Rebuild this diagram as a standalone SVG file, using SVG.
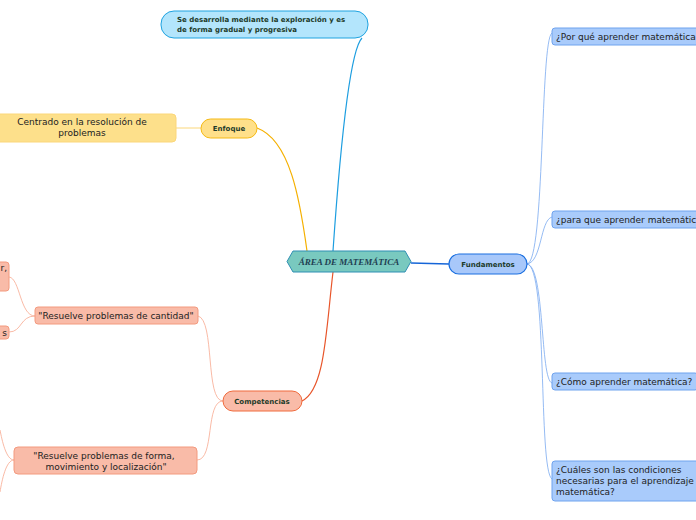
<svg xmlns="http://www.w3.org/2000/svg" width="696" height="520" viewBox="0 0 696 520">
<style>
.t{font-family:"DejaVu Sans",Verdana,sans-serif;font-size:9px;fill:#222222}
.b{font-family:"DejaVu Sans",Verdana,sans-serif;font-size:7px;font-weight:bold;fill:#1d3b2a}
.c{fill:none}
.fq{fill:#a9cbfb;stroke:#6fa3ee;stroke-width:1}
.co{fill:#f9bba8;stroke:#f39a7f;stroke-width:1}
</style>
<rect width="696" height="520" fill="#ffffff"/>
<g id="connectors" class="c">
<path d="M333,251 C340,150 350,50 362,38" stroke="#1d9ee0" stroke-width="1.2"/>
<path d="M307,251 C300,200 290,140 257,128" stroke="#f5b000" stroke-width="1.2"/>
<path d="M201,128 L176,128" stroke="#fbd77a" stroke-width="1"/>
<path d="M411,263 L449,264" stroke="#1565d8" stroke-width="1.6"/>
<path d="M333,272 C326,330 325,390 302,401" stroke="#e8552a" stroke-width="1.2"/>
<g stroke="#7aaaf0" stroke-width="0.8">
<path d="M527,264 C545,262 540,40 552,33"/>
<path d="M527,264 C542,262 540,220 552,217"/>
<path d="M527,264 C545,266 540,380 552,383"/>
<path d="M527,264 C548,266 538,470 552,479"/>
</g>
<g stroke="#f7a88f" stroke-width="0.8">
<path d="M223,401 C205,401 215,320 198,316"/>
<path d="M223,401 C205,401 215,460 197,460"/>
<path d="M35,316 C20,316 20,278 9,277"/>
<path d="M35,316 C20,316 22,332 9,332"/>
<path d="M14,460 C6,460 2,440 0,430"/>
<path d="M14,460 C6,460 2,480 0,492"/>
</g>
</g>
<g id="central">
<polygon points="287,261.5 293,251 405,251 411,261.5 405,272 293,272" fill="#79c9bf" stroke="#2f8fb3" stroke-width="1"/>
<text x="349" y="265" text-anchor="middle" font-family="'Liberation Serif','Times New Roman',serif" font-size="9" font-style="italic" font-weight="bold" fill="#1f3f52">ÁREA DE MATEMÁTICA</text>
</g>
<g id="desarrolla">
<rect x="161" y="11" width="207" height="27" rx="13" fill="#b3e5fc" stroke="#1fa3e0" stroke-width="1"/>
<text class="b" x="177" y="22">Se desarrolla mediante la exploración y es</text>
<text class="b" x="177" y="32">de forma gradual y progresiva</text>
</g>
<g id="enfoque">
<rect x="201" y="119" width="56" height="19" rx="9.5" fill="#ffe08a" stroke="#f5b914" stroke-width="1"/>
<text class="b" x="229" y="131" text-anchor="middle">Enfoque</text>
</g>
<g id="centrado">
<rect x="-5" y="114" width="181" height="28" rx="4" fill="#fde08b" stroke="#fbd77a" stroke-width="1"/>
<text class="t" x="82" y="125" text-anchor="middle">Centrado en la resolución de</text>
<text class="t" x="82" y="136" text-anchor="middle">problemas</text>
</g>
<g id="fundamentos">
<rect x="449" y="254" width="78" height="20" rx="10" fill="#a8c8fa" stroke="#1a6fe0" stroke-width="1.2"/>
<text class="b" x="488" y="267" text-anchor="middle">Fundamentos</text>
</g>
<g id="porque">
<rect class="fq" x="552" y="28" width="150" height="17" rx="3"/>
<text class="t" x="556" y="40">¿Por qué aprender matemática?</text>
</g>
<g id="paraque">
<rect class="fq" x="552" y="211" width="150" height="17" rx="3"/>
<text class="t" x="556" y="223">¿para que aprender matemática?</text>
</g>
<g id="como">
<rect class="fq" x="552" y="373" width="146" height="17" rx="3"/>
<text class="t" x="556" y="385">¿Cómo aprender matemática?</text>
</g>
<g id="cuales">
<rect class="fq" x="552" y="461" width="150" height="40" rx="3"/>
<text class="t" x="556" y="473">¿Cuáles son las condiciones</text>
<text class="t" x="556" y="484">necesarias para el aprendizaje</text>
<text class="t" x="556" y="495">matemática?</text>
</g>
<g id="competencias">
<rect x="223" y="391" width="79" height="20" rx="10" fill="#f9bba8" stroke="#f06a3c" stroke-width="1"/>
<text class="b" x="262" y="404" text-anchor="middle">Competencias</text>
</g>
<g id="cantidad">
<rect class="co" x="35" y="307" width="163" height="17" rx="3"/>
<text class="t" x="116" y="319" text-anchor="middle">"Resuelve problemas de cantidad"</text>
</g>
<g id="forma">
<rect class="co" x="14" y="447" width="183" height="27" rx="4"/>
<text class="t" x="104" y="459" text-anchor="middle">"Resuelve problemas de forma,</text>
<text class="t" x="106" y="470" text-anchor="middle">movimiento y localización"</text>
</g>
<g id="left1">
<rect class="co" x="-10" y="262" width="19" height="29" rx="3"/>
<text class="t" x="7" y="271" text-anchor="end">r,</text>
</g>
<g id="left2">
<rect class="co" x="-10" y="326" width="19" height="13" rx="3"/>
<text class="t" x="7" y="336" text-anchor="end">s</text>
</g>
</svg>
